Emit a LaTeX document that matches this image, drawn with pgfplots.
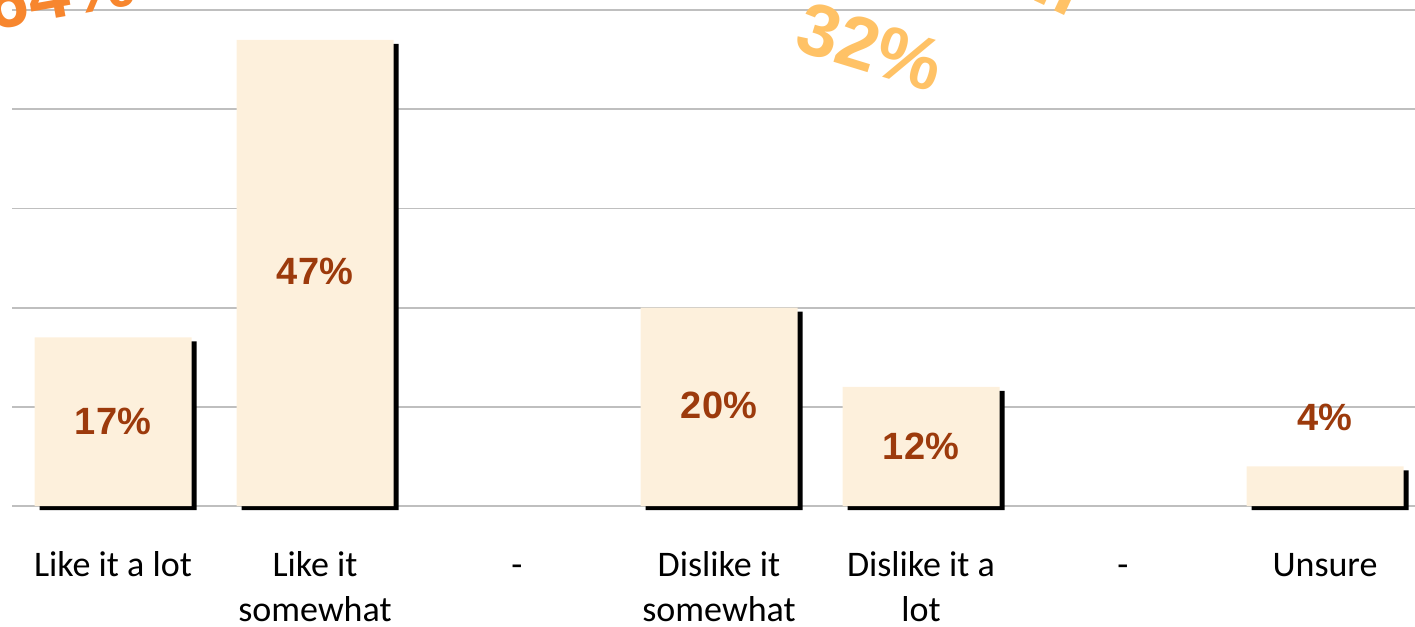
\documentclass[border=0pt]{standalone}
\usepackage{fontspec}
\setmainfont{Carlito}
\newfontfamily\arial{Liberation Sans}
\usepackage{pgfplots}
\pgfplotsset{compat=1.18}
\definecolor{barfill}{HTML}{FDF0DC}
\definecolor{lblc}{HTML}{9C3A0C}
\definecolor{gridc}{HTML}{BFBFBF}
\definecolor{orangeA}{HTML}{F7862E}
\definecolor{orangeB}{HTML}{FFC266}
\begin{document}
\begin{tikzpicture}
\begin{axis}[name=ax, scale only axis, width=707pt, height=248pt,
  xmin=-0.5, xmax=6.5, ymin=0, ymax=50, clip=false,
  axis line style={draw=none}, tick style={draw=none},
  ytick={0,10,...,50}, yticklabels={},
  ymajorgrids, major grid style={gridc, line width=0.9pt},
  xtick={0,...,6},
  xticklabels={\strut Like it a lot, {\strut Like it\\somewhat}, \strut -, {\strut Dislike it\\somewhat}, {\strut Dislike it a\\lot}, \strut -, \strut Unsure},
  xticklabel style={align=center, font=\fontsize{18}{22.5}\selectfont, text=black, anchor=north, yshift=-16pt}]
\addplot[ybar, bar width=78.5pt, fill=barfill, draw=none,
  preaction={fill=black, transform canvas={xshift=2.5pt, yshift=-2pt}}]
  coordinates {(0,17) (1,47) (3,20) (4,12) (6,4)};
\addplot[draw=none, mark=none, nodes near coords, point meta=explicit symbolic,
  every node near coord/.append style={anchor=center, yshift=0pt, font=\arial\bfseries\fontsize{19}{19}\selectfont, text=lblc}]
  coordinates {(0,8.5)[17\%] (1,23.6)[47\%] (3,10.1)[20\%] (4,6.05)[12\%] (6,8.9)[4\%]};
\node[rotate=-17, text=orangeB, font=\arial\bfseries\fontsize{37}{37}\selectfont] at (axis cs:3.75,46.3) {32\%};
\node[rotate=10, text=orangeA, font=\arial\bfseries\fontsize{37}{37}\selectfont] at (axis cs:-0.26,51.8) {64\%};
\node[rotate=-25, text=orangeB, font=\arial\bfseries\fontsize{40}{40}\selectfont, anchor=base east, inner sep=0pt] at (axis cs:4.74,49.2) {Overall};
\end{axis}
\pgfresetboundingbox
\path[use as bounding box] ([shift={(-6pt,-60.5pt)}]ax.south west) rectangle ([shift={(701.5pt,253pt)}]ax.south west);
\end{tikzpicture}
\end{document}
